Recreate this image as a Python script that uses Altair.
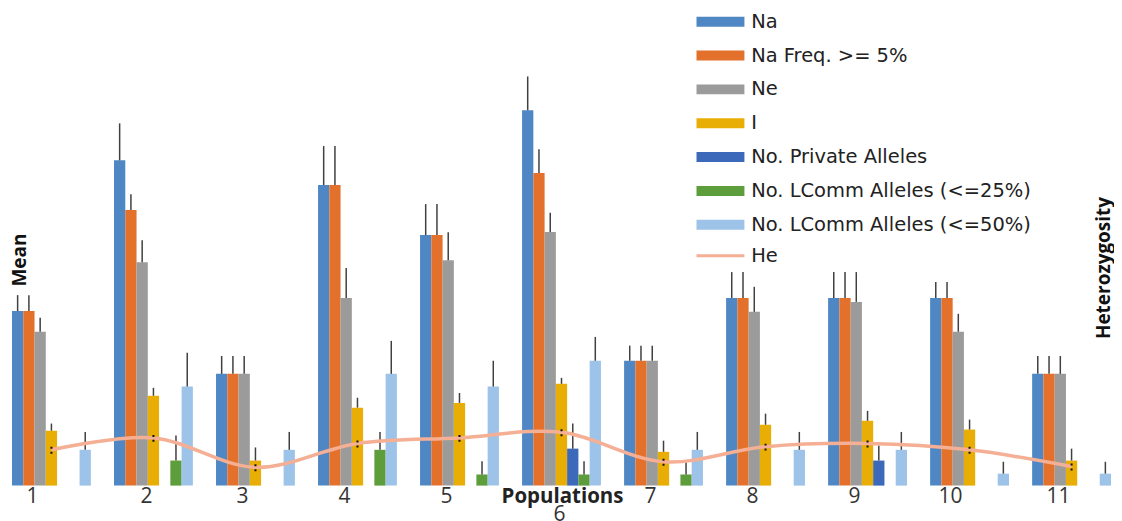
import altair as alt
import pandas as pd

populations = [str(i) for i in range(1, 12)]
series = ["Na", "Na Freq. >= 5%", "Ne", "I", "No. Private Alleles",
          "No. LComm Alleles (<=25%)", "No. LComm Alleles (<=50%)"]
colors = ["#4E87C4", "#E4712B", "#9B9B9B", "#E9AE05", "#3C69B9", "#5E9D3C", "#9DC3E8"]

na      = [4.39, 8.18, 2.81, 7.56, 6.30, 9.44, 3.14, 4.72, 4.72, 4.72, 2.81]
na_err  = [0.40, 0.93, 0.45, 0.98, 0.78, 0.85, 0.38, 0.65, 0.65, 0.40, 0.45]
naf     = [4.39, 6.93, 2.81, 7.56, 6.30, 7.86, 3.14, 4.72, 4.72, 4.72, 2.81]
naf_err = [0.40, 0.40, 0.45, 0.98, 0.78, 0.60, 0.38, 0.65, 0.65, 0.40, 0.45]
ne      = [3.87, 5.62, 2.81, 4.72, 5.67, 6.38, 3.14, 4.37, 4.62, 3.87, 2.81]
ne_err  = [0.35, 0.55, 0.45, 0.75, 0.70, 0.48, 0.38, 0.63, 0.75, 0.45, 0.45]
i_val   = [1.38, 2.26, 0.63, 1.96, 2.08, 2.56, 0.85, 1.53, 1.63, 1.41, 0.63]
i_err   = [0.18, 0.20, 0.33, 0.25, 0.25, 0.15, 0.28, 0.28, 0.25, 0.25, 0.30]
priv    = [0, 0, 0, 0, 0, 0.93, 0, 0, 0.63, 0, 0]
priv_err= [0, 0, 0, 0, 0, 0.63, 0, 0, 0.38, 0, 0]
lc25    = [0, 0.63, 0, 0.90, 0.28, 0.28, 0.28, 0, 0, 0, 0]
lc25_err= [0, 0.63, 0, 0.45, 0.33, 0.33, 0.30, 0, 0, 0, 0]
lc50    = [0.90, 2.49, 0.90, 2.81, 2.49, 3.14, 0.90, 0.90, 0.90, 0.30, 0.30]
lc50_err= [0.45, 0.85, 0.45, 0.83, 0.65, 0.60, 0.45, 0.45, 0.45, 0.30, 0.30]

he      = [0.445, 0.460, 0.423, 0.453, 0.460, 0.467, 0.430, 0.449, 0.453, 0.445, 0.424]
he_err  = [0.005] * 11

values = [na, naf, ne, i_val, priv, lc25, lc50]
errors = [na_err, naf_err, ne_err, i_err, priv_err, lc25_err, lc50_err]

rows = []
for s, vals, errs in zip(series, values, errors):
    for p, v, e in zip(populations, vals, errs):
        rows.append({"pop": p, "series": s, "value": v, "upper": v + e, "err": e})
df = pd.DataFrame(rows)
he_df = pd.DataFrame({"pop": populations, "He": he,
                      "lo": [h - e for h, e in zip(he, he_err)],
                      "hi": [h + e for h, e in zip(he, he_err)],
                      "s": ["He"] * 11})

FONT = "Open Sans"
LFONT = "DejaVu Sans"
x_scale = alt.Scale(paddingInner=0.227, paddingOuter=0.0245, align=0.8)
x_axis = alt.Axis(
    title="Populations", titleX=555, titleY=11, titleAlign="center",
    titleBaseline="middle", titleFontSize=20.5, titleFontWeight="bold",
    titleFont=FONT, titleColor="#222",
    labelFontSize=21, labelFont=FONT, labelColor="#333", labelPadding=0,
    labelAngle=0, ticks=False, domain=False, labelLineHeight=18,
    labelExpr="datum.label == '6' ? ['', '6'] : datum.label",
    labelOffset={"condition": [
        {"test": "datum.label == '6'", "value": -2},
        {"test": "datum.label == '2'", "value": -7},
        {"test": "datum.label == '1' || datum.label == '10'", "value": -19},
    ], "value": -13},
)
X = alt.X("pop:N", sort=populations, scale=x_scale, axis=x_axis)
XO = alt.XOffset("series:N", sort=series, scale=alt.Scale(paddingInner=0, paddingOuter=0))
Y = alt.Y("value:Q", scale=alt.Scale(domain=[0, 12], nice=False, zero=True), axis=None)

bar_legend = alt.Legend(
    orient="none", legendX=685, legendY=3.5, title=None,
    symbolType="M-1,-1L8.6,-1L8.6,1L-1,1Z", symbolSize=100,
    symbolStrokeWidth=0, labelFontSize=19.5, labelFont=LFONT, labelColor="#222",
    labelOffset=40, rowPadding=12.9, padding=0, labelLimit=400,
)

bars = alt.Chart(df).mark_bar().encode(
    x=X, xOffset=XO, y=Y,
    color=alt.Color("series:N", sort=series,
                    scale=alt.Scale(domain=series, range=colors), legend=bar_legend),
)
errbars = alt.Chart(df).transform_filter("datum.err > 0").mark_rule(
    color="#404040", strokeWidth=1.5
).encode(x=X, xOffset=XO, y=Y, y2="upper:Q")

he_legend = alt.Legend(
    orient="none", legendX=685, legendY=238, title=None,
    symbolType="M-1,0L8.6,0", symbolSize=100, symbolStrokeWidth=3,
    labelFontSize=19.5, labelFont=LFONT, labelColor="#222",
    labelOffset=40, padding=0, labelLimit=400,
)
HY = alt.Y("He:Q", scale=alt.Scale(domain=[0.4, 1.0], nice=False, zero=False), axis=None)
he_line = alt.Chart(he_df).mark_line(interpolate="cardinal", strokeWidth=3.5).encode(
    x=X, y=HY,
    stroke=alt.Stroke("s:N", scale=alt.Scale(domain=["He"], range=["#F4AF94"]), legend=he_legend),
)
he_err_marks = alt.Chart(he_df).mark_rule(color="#111", strokeWidth=2, strokeDash=[2, 3]).encode(
    x=X, y=alt.Y("lo:Q", scale=alt.Scale(domain=[0.4, 1.0], nice=False, zero=False), axis=None),
    y2="hi:Q",
)

mean_txt = alt.Chart(pd.DataFrame({"t": ["Mean"]})).mark_text(
    angle=270, font=FONT, fontSize=19, fontWeight="bold", color="#111",
    align="center", baseline="middle"
).encode(x=alt.value(12), y=alt.value(252), text="t:N")
het_txt = alt.Chart(pd.DataFrame({"t": ["Heterozygosity"]})).mark_text(
    angle=270, font=FONT, fontSize=19, fontWeight="bold", color="#111",
    align="center", baseline="middle"
).encode(x=alt.value(1098), y=alt.value(260), text="t:N")

chart = alt.layer(
    alt.layer(bars, errbars),
    alt.layer(he_line, he_err_marks),
    mean_txt, het_txt,
).resolve_scale(y="independent").properties(
    width=1106, height=478, padding=0, background="white"
).configure_view(stroke=None)

chart.save("out.html", embed_options={"renderer": "svg", "actions": False})
